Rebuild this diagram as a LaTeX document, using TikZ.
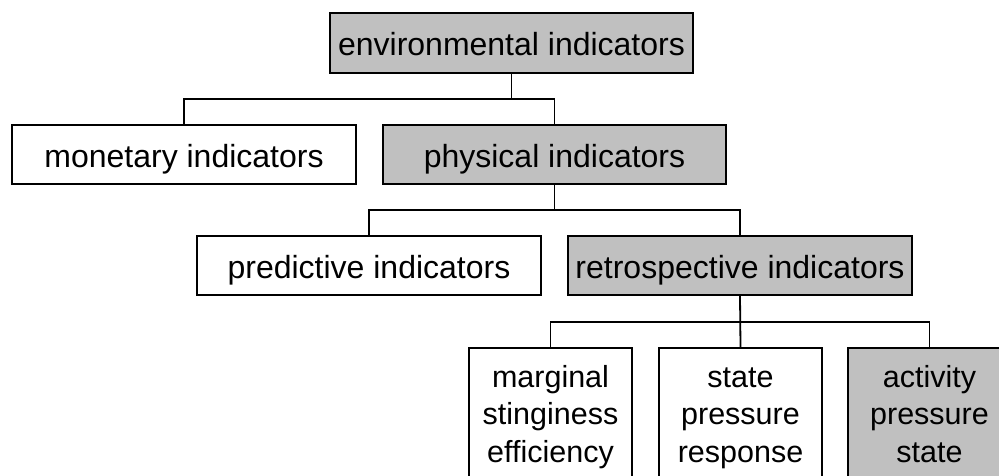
\documentclass[tikz,border=0pt]{standalone}
\usepackage{fontspec}
\setmainfont{Liberation Sans}
\definecolor{boxgray}{HTML}{C0C0C0}
\begin{document}
\begin{tikzpicture}[x=1pt,y=-1pt,
  boxbase/.style={draw=black, line width=1.8pt, inner sep=0pt,
    font=\fontsize{32}{38}\selectfont, text height=26pt, text depth=0pt},
  wide/.style={boxbase, minimum width=#1, minimum height=59pt},
  plainbox/.style={fill=white},
  shadedbox/.style={fill=boxgray},
  leafbox/.style={draw=black, line width=1.8pt, inner sep=0pt, anchor=north,
    minimum width=163pt, minimum height=143pt},
  leaftext/.style={anchor=base, inner sep=0pt, text width=160pt, align=center,
    font=\fontsize{30.5}{37.5}\selectfont},
  link/.style={draw=black, line width=1.8pt}]
  \useasboundingbox (0,0) rectangle (999,476);
  \clip (0,0) rectangle (999,476);

  % top level
  \node[wide=363pt, minimum height=60pt, shadedbox] (env) at (511.5,43) {environmental indicators};

  % second level
  \node[wide=344pt, plainbox]  (mon)  at (184,154.5)   {monetary indicators};
  \node[wide=343pt, shadedbox] (phys) at (554.5,154.5) {physical indicators};

  % third level
  \node[wide=344pt, plainbox]  (pred)  at (369,265.5) {predictive indicators};
  \node[wide=344pt, shadedbox] (retro) at (740,265.5) {retrospective indicators};

  % fourth level
  \node[leafbox, fill=white]   (marg)  at (550.5,347) {};
  \node[leafbox, fill=white]   (state) at (740.5,347) {};
  \node[leafbox, fill=boxgray] (act)   at (929.5,347) {};
  \node[leaftext] (margtxt)  at (550.5,387) {marginal\\stinginess\\efficiency};
  \node[leaftext] (statetxt) at (740.5,387) {state\\pressure\\response};
  \node[leaftext] (acttxt)   at (929.5,387) {activity\\pressure\\state};

  % bus lines
  \coordinate (busA) at (0,99);
  \coordinate (busB) at (0,210);
  \coordinate (busC) at (0,322);

  \draw[link] (env.south) -- (env.south |- busA);
  \draw[link] (mon.north) -- (mon.north |- busA) -| (phys.north);

  \draw[link] (phys.south) -- (phys.south |- busB);
  \draw[link] (pred.north) -- (pred.north |- busB) -| (retro.north);

  \draw[link] (retro.south) -- (state.north);
  \draw[link] (marg.north) -- (marg.north |- busC) -| (act.north);
\end{tikzpicture}
\end{document}
